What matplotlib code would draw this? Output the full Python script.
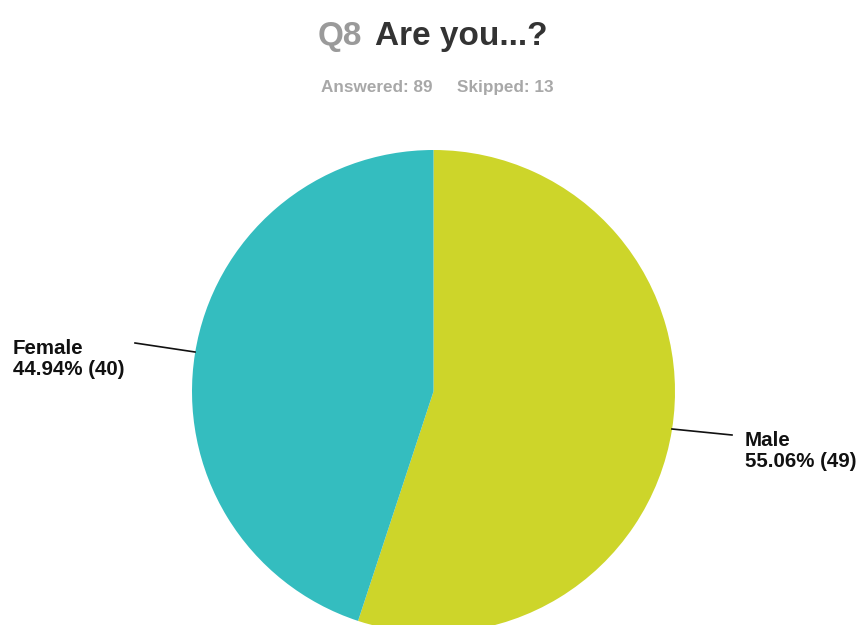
import matplotlib.pyplot as plt

# survey answers for Q8
labels = ["Male", "Female"]
counts = [49, 40]
colors = ["#CDD52A", "#34BDBF"]
answered = 89
skipped = 13

W, H = 859, 625
fig = plt.figure(figsize=(W / 100, H / 100), dpi=100)
ax = fig.add_axes([0, 0, 1, 1])

cx, cy, r = 433.5, H - 391.5, 241.5
ax.pie(counts, colors=colors, startangle=90, counterclock=False,
       center=(cx, cy), radius=r, frame=True,
       wedgeprops=dict(linewidth=0))
ax.set_xlim(0, W)
ax.set_ylim(0, H)
ax.axis("off")

font = "Liberation Sans"
total = sum(counts)

# title in two colours
ax.text(318, H - 45, "Q8", fontsize=24, fontweight="bold", color="#9a9a9a",
        family=font, ha="left", va="baseline")
ax.text(375, H - 45, "Are you...?", fontsize=24, fontweight="bold",
        color="#333333", family=font, ha="left", va="baseline")

ax.text(321, H - 92, f"Answered: {answered}", fontsize=12.3, fontweight="bold",
        color="#a8a8a8", family=font, ha="left", va="baseline")
ax.text(457, H - 92, f"Skipped: {skipped}", fontsize=12.3, fontweight="bold",
        color="#a8a8a8", family=font, ha="left", va="baseline")

# callouts: leader line start/end, text position (baseline of last line)
callouts = {
    "Female": ((135, 343), (195, 352), (13, 375)),
    "Male": ((732, 435), (672, 429), (745, 467)),
}
for lab, n in zip(labels, counts):
    p0, p1, tpos = callouts[lab]
    ax.plot([p0[0], p1[0]], [H - p0[1], H - p1[1]], color="#111111", lw=1.2)
    pct = 100 * n / total
    ax.text(tpos[0], H - tpos[1], f"{lab}\n{pct:.2f}% ({n})", fontsize=14.8,
            fontweight="bold", color="#111111", family=font, ha="left",
            va="baseline", linespacing=1.1)

fig.savefig("out.png", dpi=100, facecolor="white")
